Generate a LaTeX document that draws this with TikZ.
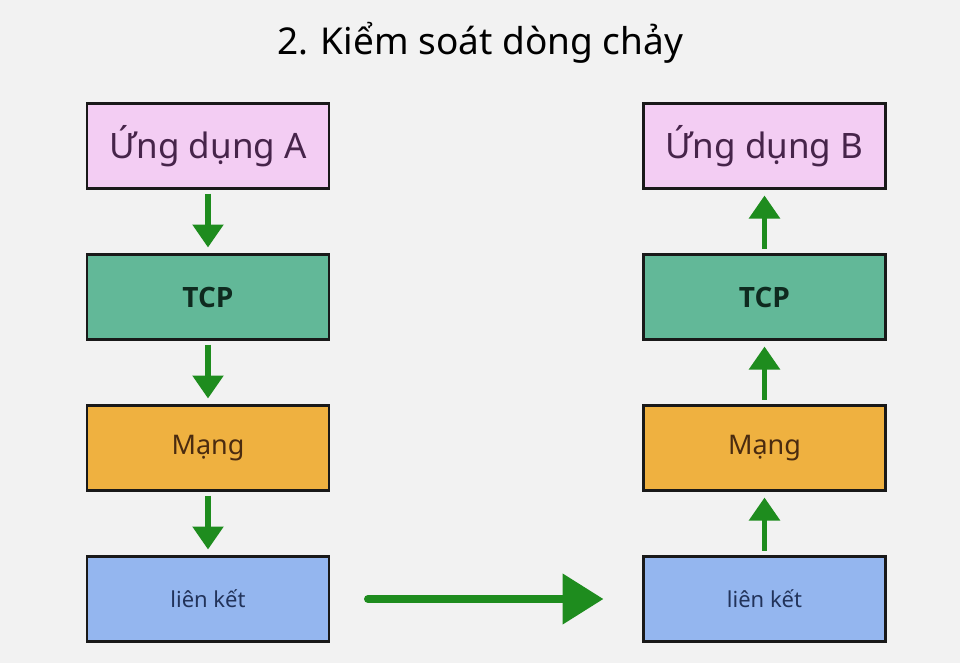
\documentclass[tikz,border=0pt]{standalone}
\usepackage{fontspec}
\setmainfont{Noto Sans}
\newfontfamily\tcpfont{Open Sans}
\usetikzlibrary{arrows.meta,positioning}
\definecolor{bgray}{RGB}{242,242,242}
\definecolor{apppink}{RGB}{243,205,243}
\definecolor{apptext}{RGB}{70,36,74}
\definecolor{tcpgreen}{RGB}{98,184,152}
\definecolor{tcptext}{RGB}{15,42,31}
\definecolor{netorange}{RGB}{239,177,64}
\definecolor{nettext}{RGB}{74,43,16}
\definecolor{linkblue}{RGB}{148,182,239}
\definecolor{linktext}{RGB}{34,51,90}
\definecolor{arrowgreen}{RGB}{30,140,30}

\begin{document}
\begin{tikzpicture}[
x=1pt, y=1pt,
node distance=66pt,
layer/.style={rectangle, draw=black!90, line width=2.5pt, outer sep=0pt, minimum width=242pt, minimum height=85pt, align=center},
app/.style={layer, fill=apppink, text=apptext, font=\fontsize{35}{40}\selectfont},
tcp/.style={layer, fill=tcpgreen, text=tcptext, font=\tcpfont\fontsize{28}{34}\selectfont\bfseries},
net/.style={layer, fill=netorange, text=nettext, font=\fontsize{27}{32}\selectfont},
link/.style={layer, fill=linkblue, text=linktext, font=\fontsize{22}{26}\selectfont},
flow/.style={draw=arrowgreen, line width=5.5pt, -{Triangle[length=23pt,width=30pt]}},
transfer/.style={draw=arrowgreen, line width=8pt, line cap=round, -{Triangle[length=41pt,width=49pt]}}
]
\fill[bgray] (0,0) rectangle (960,-663);
\useasboundingbox (0,0) rectangle (960,-663);

\node[font=\fontsize{37}{42}\selectfont] (title) at (480,-43) {2. Kiểm soát dòng chảy};

% sender stack
\node[app] (appA) at (208,-146) {Ứng dụng A};
\node[tcp, below=of appA] (tcpA) {TCP};
\node[net, below=of tcpA] (netA) {Mạng};
\node[link, below=of netA] (linkA) {liên kết};

% receiver stack
\node[app] (appB) at (764.5,-146) {Ứng dụng B};
\node[tcp, below=of appB] (tcpB) {TCP};
\node[net, below=of tcpB] (netB) {Mạng};
\node[link, below=of netB] (linkB) {liên kết};

\draw[flow, shorten <=5pt, shorten >=7pt] (appA) -- (tcpA);
\draw[flow, shorten <=5pt, shorten >=7pt] (tcpA) -- (netA);
\draw[flow, shorten <=5pt, shorten >=7pt] (netA) -- (linkA);

\draw[flow, shorten <=6pt, shorten >=7pt] (tcpB) -- (appB);
\draw[flow, shorten <=6pt, shorten >=7pt] (netB) -- (tcpB);
\draw[flow, shorten <=6pt, shorten >=7pt] (linkB) -- (netB);

\draw[transfer, shorten <=39pt, shorten >=40pt] (linkA) -- (linkB);
\end{tikzpicture}
\end{document}
